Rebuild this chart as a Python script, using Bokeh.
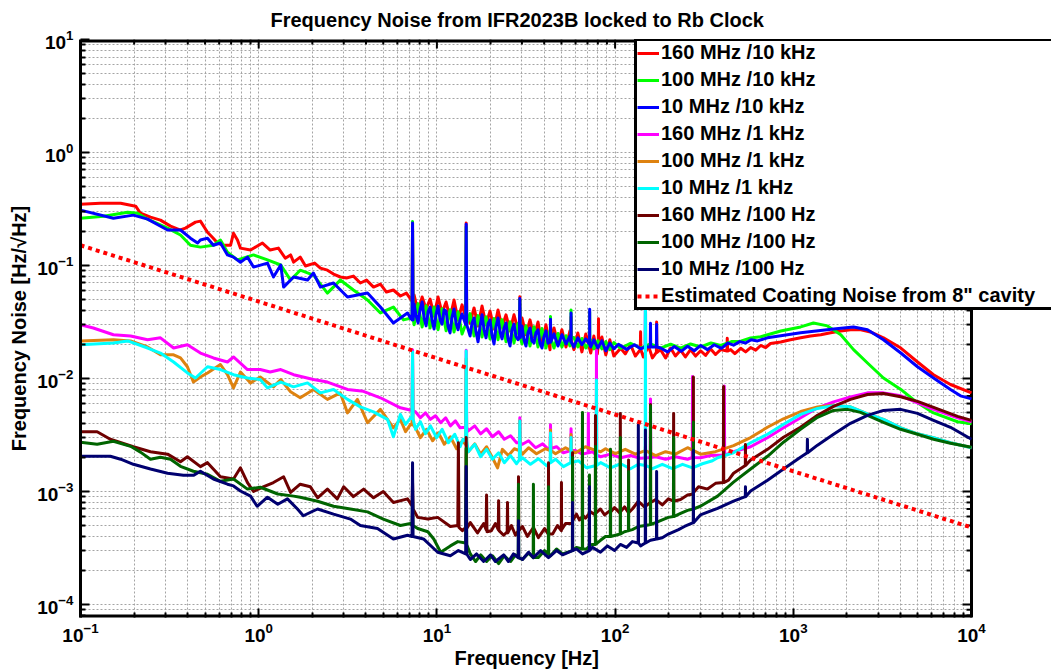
import math
from bokeh.plotting import figure
from bokeh.models import (Range1d, FixedTicker, Legend, LegendItem, Title, BoxAnnotation)
from bokeh.embed import file_html
from bokeh.resources import INLINE

FONT = "Liberation Sans"

# ---- measured spectra: (frequency [Hz], noise [Hz/sqrt(Hz)]) ----
red_pts = [
    (0.1, 0.349), (0.129, 0.356), (0.168, 0.356), (0.204, 0.335), (0.217, 0.29), (0.247, 0.268),
    (0.281, 0.252), (0.32, 0.223), (0.364, 0.206), (0.388, 0.214), (0.442, 0.242), (0.471, 0.247),
    (0.516, 0.197), (0.551, 0.177), (0.588, 0.158), (0.635, 0.151), (0.695, 0.151), (0.722, 0.193),
    (0.76, 0.168), (0.79, 0.1425), (0.90, 0.137), (1.05, 0.158), (1.16, 0.137), (1.29, 0.1425),
    (1.41, 0.116), (1.51, 0.124), (1.57, 0.107), (1.71, 0.1186), (1.83, 0.0989), (2.06, 0.105),
    (2.22, 0.0948), (2.43, 0.0909), (2.63, 0.0839), (2.87, 0.0791), (3.11, 0.0775), (3.40, 0.0806),
    (3.72, 0.070), (4.03, 0.0743), (4.41, 0.0644), (4.82, 0.0685), (5.21, 0.0582), (5.70, 0.0607),
    (6.24, 0.0537), (6.74, 0.057), (7.19, 0.0495),
    (7.25, 0.048), (7.3, 0.21), (7.35, 0.048),
    (7.45, 0.0548), (7.84, 0.0388), (8.26, 0.0526), (8.70, 0.0412), (9.16, 0.0505), (9.64, 0.0358),
    (10.15, 0.0526), (10.69, 0.038), (11.26, 0.0475), (11.85, 0.0343), (12.48, 0.0495),
    (13.14, 0.033), (13.84, 0.0448),
    (14.5, 0.035), (14.6, 0.238), (14.7, 0.035),
    (15.35, 0.031), (16.16, 0.0421), (17.02, 0.0292), (17.92, 0.0438), (18.87, 0.0299),
    (19.87, 0.0396), (20.92, 0.0274), (22.03, 0.0404), (23.2, 0.0286), (24.43, 0.0366),
    (25.72, 0.0264), (27.08, 0.0366), (28.52, 0.027),
    (29.0, 0.026), (29.2, 0.053), (29.4, 0.026),
    (30.03, 0.0343), (31.62, 0.0244), (33.3, 0.033), (35.06, 0.0233), (36.92, 0.0316),
    (38.88, 0.0202), (40.94, 0.0299), (43.11, 0.018),
    (43.3, 0.022), (43.4, 0.030), (43.5, 0.022),
    (45.4, 0.028), (47.8, 0.0199), (50.3, 0.027), (53.0, 0.019), (55.8, 0.0264),
    (56.5, 0.022), (56.6, 0.035), (56.7, 0.022),
    (58.7, 0.018), (61.8, 0.0253), (65.1, 0.0172), (68.5, 0.0248), (73.0, 0.0168), (76.0, 0.0238),
    (79.5, 0.0165),
    (80.5, 0.02), (80.7, 0.0337), (80.9, 0.02),
    (84.3, 0.0233), (88.7, 0.0162), (93.4, 0.022), (98.4, 0.0158), (107.5, 0.0185), (114, 0.0165),
    (122, 0.0199), (130, 0.0158),
    (138.5, 0.018), (139, 0.0259), (139.5, 0.018),
    (144, 0.0155), (154, 0.0194), (162, 0.0152),
    (170.5, 0.017), (171, 0.0316), (171.5, 0.017),
    (180, 0.018), (192, 0.0152), (205, 0.0186), (218, 0.0158), (233, 0.0178), (248, 0.0155),
    (265, 0.018), (283, 0.0158), (302, 0.0176), (322, 0.016), (343, 0.0183), (366, 0.0163),
    (391, 0.018),
    (424, 0.0175), (426, 0.0227), (428, 0.0175),
    (445, 0.018), (470, 0.0166), (507, 0.0185), (540, 0.0172), (576, 0.0188), (615, 0.0178),
    (656, 0.0196), (700, 0.0188), (745, 0.0204), (850, 0.021), (964, 0.022), (1100, 0.0229),
    (1250, 0.0238), (1426, 0.0244), (1620, 0.0254), (1847, 0.0263), (2094, 0.027), (2392, 0.027),
    (2710, 0.0258), (3206, 0.0229), (4012, 0.0186), (4980, 0.014), (6120, 0.0108), (7620, 0.00885),
    (10000, 0.00746),
]

green_pts = [
    (0.1, 0.262), (0.135, 0.273), (0.184, 0.296), (0.209, 0.29), (0.238, 0.257), (0.308, 0.214),
    (0.364, 0.186), (0.414, 0.151), (0.471, 0.1454), (0.557, 0.151), (0.61, 0.168), (0.668, 0.131),
    (0.76, 0.112), (0.935, 0.124), (1.12, 0.112), (1.33, 0.101), (1.51, 0.0743), (1.71, 0.0909),
    (2.03, 0.0822), (2.43, 0.057), (2.87, 0.0743), (3.40, 0.0607), (4.08, 0.0495), (4.82, 0.038),
    (5.70, 0.0429), (6.49, 0.033), (7.19, 0.0343),
    (7.25, 0.034), (7.3, 0.245), (7.35, 0.034),
    (7.45, 0.0299), (7.84, 0.046), (8.26, 0.0286), (8.70, 0.044), (9.16, 0.028), (9.64, 0.043),
    (10.15, 0.027), (10.69, 0.0415), (11.26, 0.0264), (11.85, 0.0405), (12.48, 0.0258),
    (13.14, 0.039), (13.84, 0.0248),
    (14.5, 0.03), (14.6, 0.22), (14.7, 0.03),
    (15.35, 0.0375), (16.16, 0.0238), (17.02, 0.036), (17.92, 0.0233), (18.87, 0.0352),
    (19.87, 0.0224), (20.92, 0.034), (22.03, 0.022), (23.2, 0.0332), (24.43, 0.0211),
    (25.72, 0.0318), (27.08, 0.0206), (28.52, 0.0306),
    (29.0, 0.023), (29.2, 0.05), (29.4, 0.023),
    (30.03, 0.0202), (31.62, 0.0293), (33.3, 0.0194), (35.06, 0.0287), (36.92, 0.019),
    (38.88, 0.0277), (40.94, 0.0186), (43.11, 0.0265),
    (43.3, 0.023), (43.4, 0.0354), (43.5, 0.023),
    (45.4, 0.0186), (47.8, 0.025), (50.3, 0.019), (53.0, 0.0239), (55.8, 0.0194),
    (56.5, 0.023), (56.6, 0.0403), (56.7, 0.023),
    (58.7, 0.023), (61.8, 0.019), (65.1, 0.0226), (68.5, 0.0186),
    (71.9, 0.021), (72.0, 0.039), (72.1, 0.021),
    (73.0, 0.022), (76.0, 0.0183), (80.0, 0.0216), (84.3, 0.0183), (88.7, 0.0212), (93.4, 0.018),
    (98.4, 0.0208), (107.5, 0.0185), (122, 0.0205), (139, 0.0186), (158, 0.0202), (180, 0.0186),
    (205, 0.0201), (233, 0.0186), (265, 0.0202), (302, 0.019), (345, 0.0206), (391, 0.0196),
    (450, 0.0212), (507, 0.0214), (576, 0.0228), (656, 0.0234), (850, 0.0263), (1100, 0.0286),
    (1297, 0.031), (1555, 0.0292), (1847, 0.0244), (2178, 0.018), (2608, 0.0137), (3206, 0.0101),
    (4012, 0.008), (4977, 0.00609), (6124, 0.00496), (8356, 0.00414), (10000, 0.00397),
]

blue_pts = [
    (0.1, 0.309), (0.153, 0.262), (0.198, 0.279), (0.238, 0.257), (0.308, 0.206), (0.364, 0.206),
    (0.414, 0.1745), (0.454, 0.158), (0.471, 0.168), (0.516, 0.1745), (0.557, 0.151), (0.61, 0.158),
    (0.668, 0.124), (0.722, 0.1186), (0.79, 0.107), (0.865, 0.1186), (0.935, 0.0968), (1.12, 0.105),
    (1.21, 0.0791), (1.33, 0.101), (1.38, 0.0644), (1.57, 0.0791), (1.88, 0.0743), (2.03, 0.0857),
    (2.22, 0.0644), (2.63, 0.070), (3.15, 0.0526), (4.08, 0.057), (4.82, 0.0429), (5.70, 0.031),
    (6.84, 0.038), (7.11, 0.0343),
    (7.25, 0.033), (7.3, 0.238), (7.35, 0.033),
    (7.45, 0.0456), (7.64, 0.036), (7.84, 0.031), (8.05, 0.041), (8.26, 0.0475), (8.48, 0.034),
    (8.70, 0.0292), (8.93, 0.039), (9.16, 0.0429), (9.40, 0.0325), (9.64, 0.0274), (9.89, 0.037),
    (10.15, 0.0438), (10.42, 0.033), (10.69, 0.0303), (10.97, 0.0405), (11.26, 0.0396),
    (11.55, 0.029), (11.85, 0.0253), (12.16, 0.035), (12.48, 0.0412), (12.81, 0.031),
    (13.14, 0.027), (13.49, 0.033), (13.84, 0.0372),
    (14.5, 0.03), (14.6, 0.232), (14.7, 0.03),
    (15.35, 0.0238), (15.75, 0.031), (16.16, 0.0343), (16.58, 0.026), (17.02, 0.0211),
    (17.46, 0.029), (17.92, 0.0366), (18.39, 0.027), (18.87, 0.0229), (19.36, 0.0305),
    (19.87, 0.033), (20.39, 0.024), (20.92, 0.0202), (21.47, 0.029), (22.03, 0.0343),
    (22.61, 0.026), (23.2, 0.0224), (23.81, 0.028), (24.43, 0.031), (25.07, 0.0225),
    (25.72, 0.0194), (26.39, 0.027), (27.08, 0.0303), (27.79, 0.0235), (28.52, 0.022),
    (29.0, 0.023), (29.2, 0.051), (29.4, 0.023),
    (30.03, 0.0292), (30.81, 0.022), (31.62, 0.0194), (32.45, 0.0255), (33.3, 0.028),
    (34.17, 0.0215), (35.06, 0.0206), (35.98, 0.0255), (36.92, 0.027), (37.89, 0.0205),
    (38.88, 0.0186), (39.90, 0.0235), (40.94, 0.0264), (42.01, 0.0205), (43.11, 0.0211),
    (43.3, 0.021), (43.4, 0.0335), (43.5, 0.021),
    (45.4, 0.0248), (47.8, 0.0194), (50.3, 0.0244), (53.0, 0.0202), (55.8, 0.0238),
    (56.5, 0.021), (56.6, 0.038), (56.7, 0.021),
    (58.7, 0.019), (61.8, 0.0229), (65.1, 0.0199), (68.5, 0.0224),
    (71.9, 0.02), (72.0, 0.041), (72.1, 0.02),
    (73.0, 0.019), (76.0, 0.022), (80.0, 0.0186), (84.3, 0.0215), (88.7, 0.0176), (93.4, 0.0206),
    (98.4, 0.0183), (104.4, 0.0201), (116, 0.0181), (128.5, 0.0199), (139, 0.0183),
    (147.5, 0.019), (148, 0.06), (148.5, 0.019),
    (157.5, 0.019), (158, 0.0308), (158.5, 0.019),
    (170.5, 0.019), (171, 0.030), (171.5, 0.019),
    (180, 0.0186), (197, 0.0172), (215, 0.0192), (235, 0.0174), (255, 0.0193), (278, 0.0176),
    (302, 0.0196), (330, 0.018), (360, 0.0199), (395, 0.0185), (430, 0.0206), (462, 0.0197),
    (500, 0.0212), (540, 0.0206), (580, 0.022), (630, 0.0215), (716, 0.0229), (1100, 0.0254),
    (1683, 0.0274), (2178, 0.0286), (2608, 0.027), (3206, 0.022), (4012, 0.0168), (4977, 0.0127),
    (6124, 0.0101), (7620, 0.008), (8670, 0.00702), (10000, 0.0066),
]

magenta_pts = [
    (0.1, 0.0299), (0.118, 0.028), (0.153, 0.0244), (0.191, 0.0238), (0.238, 0.022), (0.281, 0.0229),
    (0.333, 0.0186), (0.398, 0.0199), (0.471, 0.0168), (0.557, 0.0152), (0.668, 0.014),
    (0.722, 0.0155), (0.865, 0.012), (1.02, 0.012), (1.16, 0.0114), (1.33, 0.012), (1.57, 0.0108),
    (2.03, 0.0098), (2.43, 0.0093), (3.15, 0.008), (3.87, 0.0077), (4.82, 0.00675), (6.24, 0.0055),
    (7.25, 0.0052), (7.3, 0.018), (7.35, 0.0052),
    (7.59, 0.00507), (8.08, 0.00449), (8.63, 0.00496), (9.20, 0.00435), (9.82, 0.00468),
    (10.5, 0.00406), (11.2, 0.00449), (11.9, 0.00381), (12.7, 0.00422), (13.5, 0.00366),
    (14.5, 0.0037), (14.6, 0.0178), (14.7, 0.0037),
    (15.0, 0.00344), (16.3, 0.00381), (17.6, 0.00324), (19.0, 0.00359), (20.5, 0.00305),
    (22.2, 0.00338), (23.9, 0.0029), (25.9, 0.00311), (28.0, 0.0027),
    (29.0, 0.0027), (29.2, 0.0045), (29.4, 0.0027),
    (30.2, 0.00262), (32.7, 0.00281), (35.8, 0.00244), (39.2, 0.00264), (42.3, 0.00236),
    (43.2, 0.0024), (43.4, 0.0039), (43.6, 0.0024),
    (46.9, 0.00249), (51.3, 0.0022),
    (56.4, 0.0023), (56.6, 0.0036), (56.8, 0.0023),
    (60.0, 0.0023), (65.6, 0.00214),
    (70.6, 0.0022), (70.8, 0.0049), (71.0, 0.0022),
    (74.6, 0.00225),
    (78.4, 0.0021), (78.6, 0.0178), (78.8, 0.0021),
    (83.0, 0.00203), (94.2, 0.00214), (107.5, 0.00199), (122, 0.00208), (139, 0.00197),
    (157.5, 0.002), (158, 0.0066), (158.5, 0.002),
    (169, 0.00203), (192, 0.00193), (218, 0.00203), (255, 0.00193),
    (271, 0.002), (272, 0.0104), (273, 0.002),
    (302, 0.00199), (343, 0.00208),
    (408, 0.0021), (410, 0.0086), (412, 0.0021),
    (462, 0.00225), (576, 0.00249), (716, 0.00299), (881, 0.00366), (1100, 0.00449), (1368, 0.0055),
    (1683, 0.00621), (2094, 0.00687), (2608, 0.00746), (3206, 0.00746), (4012, 0.00702),
    (4977, 0.0061), (6124, 0.00533), (8356, 0.00449), (10000, 0.00414),
]

orange_pts = [
    (0.1, 0.0215), (0.153, 0.022), (0.191, 0.0215), (0.238, 0.019), (0.281, 0.0162), (0.333, 0.0162),
    (0.364, 0.0152), (0.398, 0.0127), (0.43, 0.0093), (0.471, 0.0103), (0.516, 0.0112),
    (0.61, 0.0133), (0.668, 0.0108), (0.722, 0.00826), (0.79, 0.0114), (0.90, 0.00914),
    (1.02, 0.0103), (1.21, 0.00843), (1.33, 0.0098), (1.51, 0.00762), (1.71, 0.00675), (2.03, 0.008),
    (2.43, 0.00653), (2.87, 0.00746), (3.15, 0.00496), (3.58, 0.00653), (4.08, 0.00406),
    (4.82, 0.00533), (5.70, 0.00366), (6.24, 0.00435), (6.67, 0.00338), (7.11, 0.00393),
    (7.25, 0.0039), (7.3, 0.015), (7.35, 0.0039),
    (7.59, 0.00366), (8.08, 0.00299), (8.74, 0.00355), (9.46, 0.00281), (10.2, 0.00331),
    (11.0, 0.00262), (11.9, 0.00305), (12.9, 0.00239), (13.9, 0.00281),
    (14.5, 0.0026), (14.6, 0.015), (14.7, 0.0026),
    (15.0, 0.00225), (16.3, 0.00264), (17.6, 0.00214), (19.0, 0.00249), (20.5, 0.00199),
    (21.9, 0.00162), (23.3, 0.00236), (25.2, 0.00208), (27.2, 0.00239),
    (29.0, 0.0023), (29.2, 0.0042), (29.4, 0.0023),
    (30.2, 0.00214), (32.7, 0.00244), (36.2, 0.00216), (40.6, 0.00239),
    (43.2, 0.0023), (43.4, 0.0035), (43.6, 0.0023),
    (46.3, 0.00216), (52.7, 0.00244),
    (56.4, 0.0023), (56.6, 0.0032), (56.8, 0.0023),
    (60.0, 0.0022), (68.2, 0.00249),
    (78.4, 0.0023), (78.6, 0.009), (78.8, 0.0023),
    (83.0, 0.00225), (88.3, 0.00239), (100.5, 0.00216), (114, 0.00236), (130, 0.00214),
    (148, 0.0023), (169, 0.00208), (192, 0.00225), (218, 0.00214), (255, 0.00244), (302, 0.00214),
    (366, 0.00225), (462, 0.00255), (576, 0.003), (716, 0.0037), (881, 0.0044), (1100, 0.0051),
    (1368, 0.0056), (1683, 0.0058), (2094, 0.00562), (2608, 0.00487), (3206, 0.00435),
    (4012, 0.00366), (4977, 0.00324), (6124, 0.00299), (7620, 0.0027), (10000, 0.00244),
]

cyan_pts = [
    (0.1, 0.0199), (0.153, 0.0206), (0.184, 0.0215), (0.238, 0.0186), (0.281, 0.0168), (0.333, 0.014),
    (0.398, 0.0112), (0.442, 0.0101), (0.516, 0.0127), (0.61, 0.012), (0.722, 0.0108),
    (0.865, 0.0101), (1.02, 0.0098), (1.12, 0.00826), (1.33, 0.0093), (1.57, 0.00843),
    (1.88, 0.00914), (2.22, 0.00746), (2.63, 0.008), (3.15, 0.00653), (3.72, 0.00561),
    (4.41, 0.00507), (5.28, 0.00435), (5.70, 0.00305), (6.24, 0.00481), (6.67, 0.00393),
    (7.11, 0.00449),
    (7.25, 0.0044), (7.3, 0.0172), (7.35, 0.0044),
    (7.59, 0.00355), (8.08, 0.00414), (8.63, 0.00324), (9.20, 0.00381), (9.96, 0.00299),
    (10.7, 0.00355), (11.6, 0.0027), (12.6, 0.00321), (13.5, 0.00249), (14.0, 0.0029),
    (14.5, 0.0028), (14.6, 0.0175), (14.7, 0.0028),
    (15.0, 0.00225), (16.3, 0.00262), (17.6, 0.00203), (19.0, 0.00236), (20.5, 0.00193),
    (22.2, 0.0022), (23.9, 0.0018), (25.9, 0.00208), (28.0, 0.00176),
    (29.0, 0.0019), (29.2, 0.0042), (29.4, 0.0019),
    (30.2, 0.00199), (33.5, 0.00174), (37.1, 0.00195), (41.2, 0.00169),
    (43.2, 0.0018), (43.4, 0.0033), (43.6, 0.0018),
    (46.3, 0.00193), (51.3, 0.00166),
    (56.4, 0.0018), (56.6, 0.003), (56.8, 0.0018),
    (62.4, 0.00187), (69.2, 0.00162),
    (78.4, 0.0017), (78.6, 0.0097), (78.8, 0.0017),
    (83.0, 0.0018), (94.2, 0.00162), (107.5, 0.00176), (122, 0.00159), (135, 0.00174),
    (147.5, 0.0017), (148, 0.0433), (148.5, 0.0017),
    (162, 0.00159), (184, 0.00174), (210, 0.00159), (239, 0.00174), (272, 0.00162), (309, 0.00176),
    (352, 0.00187), (376, 0.00199), (462, 0.0022), (576, 0.0027), (716, 0.00321), (881, 0.00393),
    (1100, 0.00481), (1368, 0.00543), (1683, 0.00573), (2094, 0.00562), (2608, 0.00487),
    (3206, 0.00435), (4012, 0.00366), (4977, 0.00324), (6124, 0.00299), (7620, 0.0027),
    (10000, 0.00244),
]

maroon_pts = [
    (0.1, 0.00338), (0.124, 0.00338), (0.147, 0.0029), (0.198, 0.00249), (0.247, 0.00225),
    (0.308, 0.00214), (0.364, 0.00183), (0.398, 0.00203), (0.471, 0.00166), (0.516, 0.0018),
    (0.61, 0.00135), (0.722, 0.00129), (0.79, 0.00162), (0.865, 0.0012), (0.935, 0.001),
    (1.06, 0.0011), (1.21, 0.0012), (1.38, 0.00135), (1.51, 0.00098), (1.71, 0.00116),
    (1.95, 0.0011), (2.14, 0.00088), (2.43, 0.00105), (2.76, 0.00086), (3.0, 0.0011), (3.4, 0.0009),
    (3.88, 0.00105), (4.41, 0.00088), (5.0, 0.001), (5.7, 0.0008), (6.84, 0.00086),
    (7.25, 0.00075), (7.3, 0.0012), (7.35, 0.0007),
    (7.8, 0.00059), (8.9, 0.00057), (10.1, 0.00059), (11.9, 0.00049),
    (13.1, 0.0005), (13.2, 0.0027), (13.3, 0.00048), (13.9, 0.00045),
    (14.5, 0.00048), (14.6, 0.003), (14.7, 0.00047),
    (15.4, 0.00053), (16.9, 0.00043), (18.3, 0.00052),
    (18.9, 0.00046), (19.0, 0.00093), (19.1, 0.00044),
    (20.2, 0.00045), (21.3, 0.00052),
    (22.1, 0.00046), (22.2, 0.00083), (22.3, 0.00045),
    (23.7, 0.00041),
    (24.8, 0.00044), (24.9, 0.0008), (25.0, 0.00043),
    (26.2, 0.0005), (27.6, 0.00041),
    (28.6, 0.00045), (28.7, 0.00135), (28.8, 0.00045),
    (30.2, 0.00049), (32.2, 0.0004), (34.8, 0.00048), (37.1, 0.00039), (40.2, 0.00047),
    (42.2, 0.00042), (42.3, 0.0018), (42.4, 0.00042),
    (44.6, 0.00042), (47.5, 0.0005),
    (49.9, 0.00045), (50.0, 0.0012), (50.1, 0.00046),
    (52.7, 0.00052),
    (57.6, 0.00052), (57.7, 0.0022), (57.8, 0.00055),
    (60.7, 0.00063), (63.1, 0.00056),
    (65.5, 0.0006), (65.6, 0.0048), (65.7, 0.00062),
    (68.2, 0.00058), (72.8, 0.00066),
    (77.5, 0.00062), (77.6, 0.0047), (77.7, 0.00064),
    (82.8, 0.0007), (87.3, 0.00062),
    (94.0, 0.00068), (94.2, 0.0015), (94.4, 0.00066),
    (99.3, 0.00072),
    (106.8, 0.00064), (107, 0.0049), (107.2, 0.00066),
    (113, 0.00073),
    (118.8, 0.00065), (119, 0.0019), (119.2, 0.00065),
    (125, 0.0007), (135, 0.00082), (146, 0.00073),
    (157.7, 0.0008), (158, 0.0059), (158.3, 0.0008),
    (169, 0.00085), (184, 0.00076), (199, 0.00086),
    (212.5, 0.00082), (213, 0.0049), (213.5, 0.00082),
    (233, 0.00085), (255, 0.00093),
    (274.5, 0.00095), (275, 0.0103), (275.5, 0.00098),
    (294, 0.0011), (301, 0.00109), (330, 0.00105), (366, 0.00118),
    (405, 0.0012), (406, 0.0085), (407, 0.0012),
    (433, 0.00126), (462, 0.00145),
    (538, 0.0017), (539, 0.0026), (540, 0.0017),
    (576, 0.0019), (717, 0.00236), (881, 0.00302), (1097, 0.0037), (1367, 0.00472),
    (1682, 0.00566), (2094, 0.00653), (2608, 0.00722), (3206, 0.00735), (3998, 0.0069),
    (4977, 0.00627), (6124, 0.00555), (8356, 0.00462), (10000, 0.00426),
]

darkgreen_pts = [
    (0.1, 0.00273), (0.124, 0.00262), (0.153, 0.00278), (0.191, 0.00251), (0.217, 0.00223),
    (0.247, 0.00193), (0.281, 0.00201), (0.32, 0.00193), (0.364, 0.00167), (0.43, 0.00151),
    (0.516, 0.00142), (0.61, 0.00123), (0.722, 0.00129), (0.865, 0.00105), (1.02, 0.00109),
    (1.28, 0.00095), (1.57, 0.00091), (1.71, 0.00089), (2.14, 0.00082), (2.63, 0.00074),
    (3.27, 0.0007), (4.08, 0.00066), (5.0, 0.00057), (6.24, 0.0005), (7.11, 0.00052),
    (7.25, 0.0005), (7.3, 0.0009), (7.35, 0.0005),
    (7.8, 0.00047), (8.9, 0.00044), (9.6, 0.00038), (10.5, 0.00029), (11.9, 0.00033), (13.1, 0.00036),
    (14.5, 0.00035), (14.6, 0.0024), (14.7, 0.00034),
    (15.4, 0.00028), (16.5, 0.00024), (17.6, 0.000275), (19.0, 0.00024), (20.5, 0.00027),
    (22.2, 0.00023), (23.9, 0.00027), (25.9, 0.00024), (27.6, 0.000275),
    (28.6, 0.00026), (28.7, 0.00116), (28.8, 0.00026),
    (30.2, 0.00025), (32.7, 0.000285),
    (34.7, 0.00026), (34.8, 0.00116), (34.9, 0.00026),
    (37.1, 0.00026), (40.2, 0.0003),
    (42.2, 0.00028), (42.3, 0.0011), (42.4, 0.00028),
    (43.4, 0.00027), (46.9, 0.00031), (50.7, 0.00028),
    (57.6, 0.0003), (57.7, 0.002), (57.8, 0.0003),
    (60.7, 0.00032),
    (65.5, 0.00031), (65.6, 0.005), (65.7, 0.00031),
    (69.2, 0.00031),
    (71.7, 0.00033), (71.8, 0.0014), (71.9, 0.00033),
    (74.6, 0.00034),
    (77.5, 0.00034), (77.6, 0.0025), (77.7, 0.00034),
    (82.8, 0.00037), (88.3, 0.0004),
    (94.0, 0.0004), (94.2, 0.00236), (94.4, 0.0004),
    (100.5, 0.00041),
    (106.8, 0.00042), (107, 0.003), (107.2, 0.00042),
    (113, 0.00044),
    (118.8, 0.00045), (119, 0.0015), (119.2, 0.00045),
    (125, 0.00046), (135, 0.00049),
    (147.7, 0.0005), (148, 0.0025), (148.3, 0.0005),
    (157.7, 0.00051), (158, 0.0057), (158.3, 0.00051),
    (169, 0.00053), (184, 0.00056), (199, 0.00059),
    (212.5, 0.0006), (213, 0.003), (213.5, 0.0006),
    (233, 0.00064), (255, 0.00068),
    (274.5, 0.0007), (275, 0.0041), (275.5, 0.0007),
    (301, 0.00074), (376, 0.00091), (462, 0.00121), (576, 0.00158), (717, 0.00205), (881, 0.00273),
    (1097, 0.00355), (1367, 0.00453), (1682, 0.00522), (2015, 0.00533), (2383, 0.00501),
    (2608, 0.00472), (3206, 0.00409), (3998, 0.00355), (4977, 0.00321), (6124, 0.0029),
    (7621, 0.00267), (10000, 0.00246),
]

navy_pts = [
    (0.1, 0.00205), (0.147, 0.00205), (0.168, 0.00193), (0.198, 0.00174), (0.247, 0.00158),
    (0.308, 0.00145), (0.378, 0.00139), (0.43, 0.00139), (0.471, 0.00151), (0.557, 0.00129),
    (0.668, 0.00116), (0.722, 0.00112), (0.79, 0.00101), (0.90, 0.00091), (0.98, 0.00074),
    (1.12, 0.00089), (1.28, 0.00077), (1.45, 0.00086), (1.65, 0.0007), (1.78, 0.00061),
    (2.14, 0.0007), (2.63, 0.00063), (3.27, 0.00057), (3.72, 0.0005), (4.64, 0.00047),
    (5.70, 0.00038), (6.84, 0.00041),
    (7.25, 0.0004), (7.3, 0.0018), (7.35, 0.0004),
    (8.41, 0.00038), (10.1, 0.00029), (11.9, 0.00027), (13.2, 0.0003),
    (14.5, 0.00028), (14.6, 0.00166), (14.7, 0.00028),
    (15.4, 0.00025), (16.7, 0.00028), (18.3, 0.00024), (20.0, 0.000275), (21.3, 0.00024),
    (23.7, 0.000275), (25.2, 0.00024), (26.9, 0.00028),
    (28.6, 0.00026), (28.7, 0.00055), (28.8, 0.00026),
    (30.2, 0.00025), (32.7, 0.00029), (34.8, 0.00026), (38.2, 0.0003), (42.3, 0.00026),
    (46.9, 0.0003), (50.7, 0.000275),
    (57.6, 0.0003), (57.7, 0.0008), (57.8, 0.0003),
    (60.7, 0.00031), (65.6, 0.00028),
    (71.7, 0.0003), (71.8, 0.0011), (71.9, 0.0003),
    (74.6, 0.00032), (82.8, 0.00029), (90.6, 0.00033), (99.3, 0.0003), (107, 0.00034),
    (116, 0.00032), (125, 0.00036),
    (134.7, 0.00035), (135, 0.0039), (135.3, 0.00035),
    (139, 0.00033),
    (147.7, 0.00035), (148, 0.0035), (148.3, 0.00035),
    (158, 0.00037),
    (170.7, 0.00038), (171, 0.0015), (171.3, 0.00038),
    (184, 0.00039), (199, 0.00042), (227, 0.00046), (245, 0.00049),
    (274.5, 0.00053), (275, 0.0023), (275.5, 0.00053),
    (301, 0.00062), (376, 0.00071), (462, 0.00082),
    (538, 0.0009), (539, 0.0011), (540, 0.0009),
    (576, 0.00101), (717, 0.00126), (881, 0.00158), (1097, 0.00201),
    (1197, 0.0022), (1200, 0.0029), (1203, 0.0022),
    (1367, 0.00257), (1682, 0.00321), (2094, 0.00401), (2608, 0.00472), (3206, 0.00522),
    (3998, 0.00533), (4977, 0.00491), (6124, 0.00426), (7621, 0.0037), (10000, 0.0029),
]

# coating-noise estimate, one value per decade
coating_f = [0.1, 1.0, 10.0, 100.0, 1000.0, 10000.0]
coating_v = [0.151, 0.048, 0.0151, 0.0048, 0.00151, 0.00048]

series = [
    ("160 MHz /10 kHz", "#ff0000", red_pts),
    ("100 MHz /10 kHz", "#00ff00", green_pts),
    ("10 MHz /10 kHz", "#0000ff", blue_pts),
    ("160 MHz /1 kHz", "#ff00ff", magenta_pts),
    ("100 MHz /1 kHz", "#de8210", orange_pts),
    ("10 MHz /1 kHz", "#00ffff", cyan_pts),
    ("160 MHz /100 Hz", "#6e0000", maroon_pts),
    ("100 MHz /100 Hz", "#006400", darkgreen_pts),
    ("10 MHz /100 Hz", "#000070", navy_pts),
]
coating_label = 'Estimated Coating Noise from 8" cavity'

F_MIN, F_MAX = 0.1, 1e4
Y_MIN, Y_MAX = 7.67e-5, 10.0
# the frame runs to the right edge of the page so the legend can hang past the
# right-hand axis; the data region itself stops at F_MAX
DECADE_PX = 178.2
X_END = 10 ** (math.log10(F_MAX) + 80 / DECADE_PX)

p = figure(width=1051, height=670, x_axis_type="log", y_axis_type="log",
           x_range=Range1d(F_MIN, X_END), y_range=Range1d(Y_MIN, Y_MAX),
           output_backend="svg", toolbar_location=None,
           min_border_left=80, min_border_right=0,
           min_border_top=39, min_border_bottom=53)
p.background_fill_color = "white"
p.border_fill_color = "white"
p.outline_line_color = None

x_major = [10.0 ** k for k in range(-1, 5)]
x_minor = [m * 10.0 ** k for k in range(-1, 4) for m in range(2, 10)]
y_major = [10.0 ** k for k in range(-4, 2)]
y_minor = [m * 10.0 ** k for k in range(-5, 1) for m in range(2, 10) if m * 10.0 ** k > Y_MIN]
xt = FixedTicker(ticks=x_major, minor_ticks=x_minor)
yt = FixedTicker(ticks=y_major, minor_ticks=y_minor)

for ax, t in ((p.xaxis[0], xt), (p.yaxis[0], yt)):
    ax.ticker = t
    ax.axis_line_width = 3
    ax.axis_line_color = "black"
    ax.major_tick_in = 9
    ax.major_tick_out = 0
    ax.minor_tick_in = 5
    ax.minor_tick_out = 0
    ax.major_tick_line_width = 2
    ax.minor_tick_line_width = 2
    ax.major_label_text_font = FONT
    ax.major_label_text_font_size = "19px"
    ax.major_label_text_font_style = "bold"
    ax.major_label_text_color = "black"
p.xaxis[0].axis_line_color = None
p.xaxis[0].major_label_standoff = 5
p.yaxis[0].major_label_standoff = 7

p.yaxis[0].axis_label = "Frequency Noise [Hz/\u221aHz]"
p.yaxis[0].axis_label_text_font = FONT
p.yaxis[0].axis_label_text_font_size = "20px"
p.yaxis[0].axis_label_text_font_style = "bold"
p.yaxis[0].axis_label_text_color = "black"
p.yaxis[0].axis_label_standoff = 4

p.add_layout(Title(text="Frequency [Hz]", align="left", offset=374, standoff=0,
                   text_font=FONT, text_font_size="20px", text_font_style="bold",
                   text_color="black"), "below")
p.add_layout(Title(text="Frequency Noise from IFR2023B locked to Rb Clock", align="left",
                   offset=190, standoff=14, vertical_align="top",
                   text_font=FONT, text_font_size="20px",
                   text_font_style="bold", text_color="black"), "above")

for g, t in ((p.xgrid[0], xt), (p.ygrid[0], yt)):
    g.ticker = t
    g.grid_line_color = "#a4a4a4"
    g.grid_line_dash = "2 2"
    g.grid_line_width = 1
    g.minor_grid_line_color = "#a4a4a4"
    g.minor_grid_line_dash = "2 2"
    g.minor_grid_line_width = 1

# blank strip to the right of the data region
p.add_layout(BoxAnnotation(left=F_MAX, fill_color="white", fill_alpha=1.0,
                           line_alpha=0.0, level="underlay"))

# box edges of the data region: bottom, top, right
p.line([F_MIN, F_MAX], [Y_MIN, Y_MIN], line_color="black", line_width=6)
p.line([F_MIN, F_MAX], [Y_MAX, Y_MAX], line_color="black", line_width=6)
p.line([F_MAX, F_MAX], [Y_MIN, Y_MAX], line_color="black", line_width=3)
# inward ticks on the top and right edges
p.ray(x=x_major, y=[Y_MAX] * len(x_major), length=9, length_units="screen",
      angle=-math.pi / 2, line_color="black", line_width=2)
p.ray(x=x_minor, y=[Y_MAX] * len(x_minor), length=5, length_units="screen",
      angle=-math.pi / 2, line_color="black", line_width=2)
p.ray(x=[F_MAX] * len(y_major), y=y_major, length=9, length_units="screen",
      angle=math.pi, line_color="black", line_width=2)
p.ray(x=[F_MAX] * len(y_minor), y=y_minor, length=5, length_units="screen",
      angle=math.pi, line_color="black", line_width=2)

items = []
for label, color, pts in series:
    fx = [a for a, b in pts]
    fy = [b for a, b in pts]
    r = p.line(fx, fy, line_color=color, line_width=3, line_join="round")
    items.append(LegendItem(label=label, renderers=[r]))

rc = p.line(coating_f, coating_v, line_color="#ff0000", line_width=4, line_dash="4 4")
items.append(LegendItem(label=coating_label, renderers=[rc]))

legend = Legend(items=items, location=(554, 307),
                border_line_color="black", border_line_width=3, border_line_alpha=1.0,
                background_fill_color="white", background_fill_alpha=1.0,
                padding=0, spacing=4, margin=0,
                glyph_width=22, glyph_height=20, label_height=20, label_width=400,
                label_standoff=2,
                label_text_font=FONT, label_text_font_size="20px",
                label_text_font_style="bold", label_text_color="black")
p.add_layout(legend)

open("out.html", "w").write(file_html(p, INLINE))
